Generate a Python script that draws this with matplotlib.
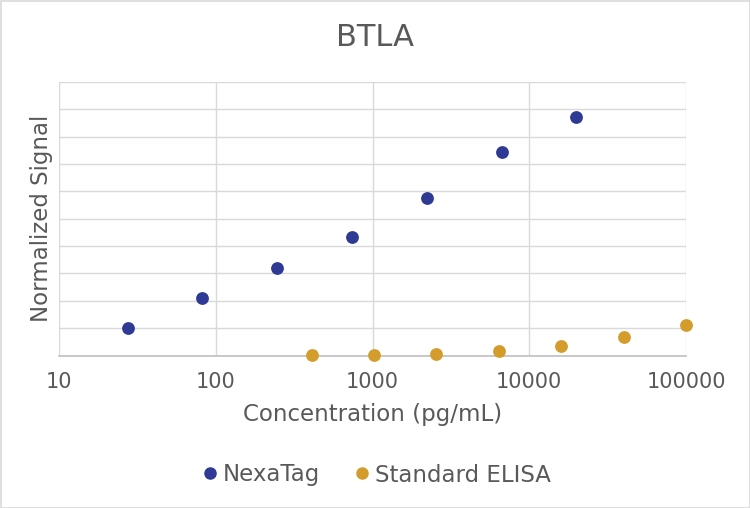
import matplotlib
matplotlib.use("Agg")
import matplotlib.pyplot as plt
from matplotlib.patches import Rectangle
from matplotlib.lines import Line2D

# Data
nexatag_conc = [27.4, 82.3, 247, 741, 2222, 6667, 20000]
nexatag_signal = [1.02, 2.12, 3.20, 4.32, 5.75, 7.44, 8.72]
elisa_conc = [409.6, 1024, 2560, 6400, 16000, 40000, 100000]
elisa_signal = [0.01, 0.03, 0.07, 0.16, 0.33, 0.68, 1.12]
x_ticks = [10, 100, 1000, 10000, 100000]
x_tick_labels = ["10", "100", "1000", "10000", "100000"]

plt.rcParams['font.family'] = ['DejaVu Sans']
TXT = '#595959'
NAVY = '#2E3A93'
GOLD = '#D39C2B'

fig = plt.figure(figsize=(7.5, 5.08), dpi=100)
ax = fig.add_axes([59/750, 1-355.5/508, (686-59)/750, (355.5-82)/508])

ax.scatter(nexatag_conc, nexatag_signal, s=85, color=NAVY, zorder=3, linewidths=0)
ax.scatter(elisa_conc, elisa_signal, s=85, color=GOLD, zorder=3, linewidths=0, clip_on=False)

ax.set_xscale('log')
ax.set_xlim(10, 100000)
ax.set_ylim(0, 10)
ax.set_xticks(x_ticks)
ax.set_xticklabels(x_tick_labels)
ax.minorticks_off()
ax.set_yticks(range(0, 11))
ax.set_yticklabels([])
ax.tick_params(axis='both', length=0, colors=TXT, labelsize=15, pad=12)
ax.grid(True, color='#D9D9D9', linewidth=1)
ax.set_axisbelow(True)
for s in ['top', 'right', 'left']:
    ax.spines[s].set_visible(False)
ax.spines['bottom'].set_color('#BFBFBF')
ax.spines['bottom'].set_linewidth(1.2)

ax.set_xlabel('Concentration (pg/mL)', fontsize=16.5, color=TXT, va='center')
ax.xaxis.set_label_coords(0.5, (355.5-415)/273.5)
ax.set_ylabel('Normalized Signal', fontsize=16.5, color=TXT, va='center')
ax.yaxis.set_label_coords((42-59)/627, 0.5)
fig.text(0.5, 1-38/508, 'BTLA', ha='center', va='center', fontsize=22, color=TXT)

handles = [Line2D([], [], marker='o', linestyle='', color=NAVY, markersize=8, label='NexaTag'),
           Line2D([], [], marker='o', linestyle='', color=GOLD, markersize=8, label='Standard ELISA')]
fig.legend(handles=handles, loc='center', bbox_to_anchor=(0.5, 1-475/508), ncol=2, frameon=False,
           fontsize=16.5, labelcolor=TXT, handletextpad=0.1, columnspacing=1.4, handlelength=0.9)

fig.patches.append(Rectangle((0.5/750, 0.5/508), 1-1/750, 1-1/508, transform=fig.transFigure,
                             fill=False, edgecolor='#D9D9D9', linewidth=1.2))

fig.savefig('out.png', dpi=100, facecolor='white')
